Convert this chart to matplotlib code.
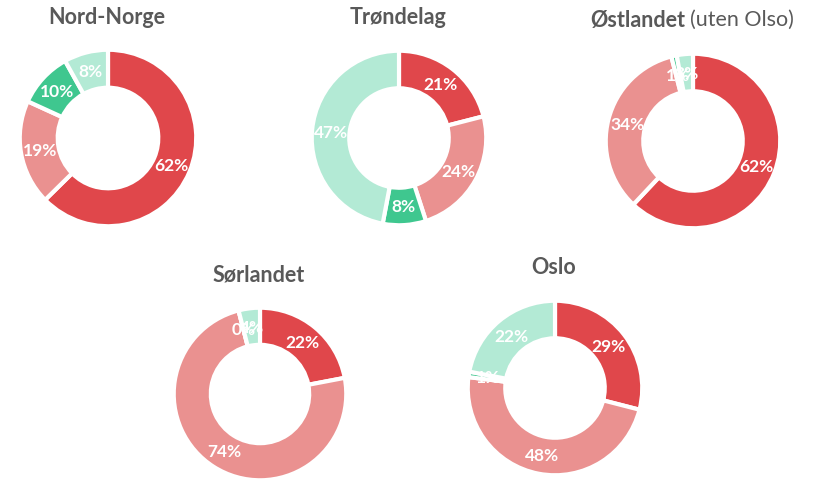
import matplotlib
matplotlib.use("Agg")
import matplotlib.pyplot as plt

plt.rcParams['font.family'] = ['Lato', 'DejaVu Sans']

regions = ['Nord-Norge', 'Trøndelag', 'Østlandet', 'Sørlandet', 'Oslo']
# four categories per region, clockwise from 12 o'clock
nord_norge = [62, 19, 10, 8]
trondelag = [21, 24, 8, 47]
ostlandet = [62, 34, 1, 3]
sorlandet = [22, 74, 0, 4]
oslo = [29, 48, 1, 22]

colors = ['#E0474B', '#EA9190', '#3FC78F', '#B3EAD5']
title_col = '#595959'

W, H = 813, 481
fig = plt.figure(figsize=(W / 100, H / 100), dpi=100)

# (centre x, centre y, radius) in pixels, title y in pixels
layout = [
    (108, 139, 90, 18),
    (399, 139, 89, 18),
    (693, 142, 89, 20),
    (260, 395, 88, 275),
    (555, 389, 89, 268),
]
series = [nord_norge, trondelag, ostlandet, sorlandet, oslo]


def add_donut(vals, cx, cy, r):
    ax = fig.add_axes([(cx - r) / W, 1 - (cy + r) / H, 2 * r / W, 2 * r / H])
    labels = [f'{v}%' for v in vals]
    ax.pie(vals, colors=colors, startangle=90, counterclock=False,
           radius=1, labels=labels, labeldistance=0.78,
           wedgeprops=dict(width=0.43, edgecolor='white', linewidth=3),
           textprops=dict(color='white', fontsize=12.5, fontweight='bold',
                          ha='center', va='center'))
    for t in ax.texts:
        t.set_ha('center')
        t.set_va('center')
    ax.set_xlim(-1.02, 1.02)
    ax.set_ylim(-1.02, 1.02)
    ax.set_aspect('equal')
    ax.axis('off')
    return ax


for name, vals, (cx, cy, r, ty) in zip(regions, series, layout):
    add_donut(vals, cx, cy, r)
    if name == 'Østlandet':
        t1 = fig.text(590 / W, 1 - ty / H, name, ha='left', va='center',
                      fontsize=15.5, fontweight='bold', color=title_col)
        fig.canvas.draw()
        bb = t1.get_window_extent(fig.canvas.get_renderer())
        fig.text((bb.x1 + 5) / W, 1 - ty / H, '(uten Olso)', ha='left',
                 va='center', fontsize=15.5, color=title_col)
    else:
        fig.text((cx - 1) / W, 1 - ty / H, name, ha='center', va='center',
                 fontsize=15.5, fontweight='bold', color=title_col)

fig.savefig('out.png', dpi=100, facecolor='white')
